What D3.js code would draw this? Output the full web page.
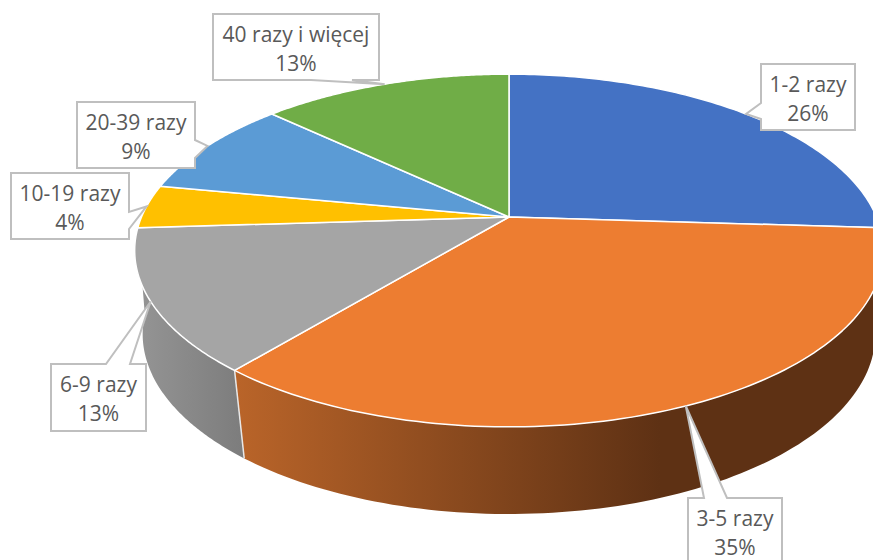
<!DOCTYPE html>
<html>
<head>
<meta charset="utf-8">
<script src="https://cdn.jsdelivr.net/npm/d3@7"></script>
<style>
    html, body { margin: 0; padding: 0; background: #fff; overflow: hidden; }
    svg { display: block; }
</style>
</head>
<body>
<svg id="chart" width="873" height="560"></svg>
<script>
(function () {

    var categories = ["1-2 razy", "3-5 razy", "6-9 razy", "10-19 razy", "20-39 razy", "40 razy i więcej"],
        values = [26, 35, 13, 4, 9, 13],
        percentLabels = ["26%", "35%", "13%", "4%", "9%", "13%"],
        colors = ["#4472c4", "#ed7d31", "#a5a5a5", "#ffc000", "#5b9bd5", "#70ad47"];

    // label boxes: x, y, w, h, side the pointer leaves from, pointer base on that side
    var boxes = [
        { x: 761, y: 64, w: 94, h: 66, side: "left", a: 103, b: 119 },
        { x: 688, y: 498, w: 94, h: 66, side: "top", a: 704, b: 727 },
        { x: 51, y: 364, w: 95, h: 67, side: "top", a: 106, b: 130 },
        { x: 11, y: 173, w: 118, h: 66, side: "right", a: 212, b: 229 },
        { x: 77, y: 102, w: 118, h: 66, side: "right", a: 140, b: 158 },
        { x: 213, y: 14, w: 166, h: 66, side: "bottom", a: 311, b: 352 }
    ];

    var svg = d3.select("#chart"),
        cx = 509,
        top = { r: 367.5, cy: 217, depth: 170, k: 0.19 },
        bottom = { r: 361, cy: 303.4, depth: 174.8, k: 0.17 };

    // circle seen in perspective, angle runs clockwise from twelve o'clock
    function project(disc, angle) {
        var u = Math.sin(angle),
            v = -Math.cos(angle),
            d = 1 - disc.k * v;
        return [cx + disc.r * u / d, disc.cy + disc.depth * v / d];
    }

    function rim(disc, a0, a1) {
        return d3.range(0, 101).map(function (i) {
            return project(disc, a0 + (a1 - a0) * i / 100);
        });
    }

    var line = d3.line(),
        slices = d3.pie().sort(null).value(function (d) { return d; })(values);

    var defs = svg.append("defs");

    var orangeGrad = defs.append("linearGradient")
        .attr("id", "wallOrange")
        .attr("gradientUnits", "userSpaceOnUse")
        .attr("x1", 238).attr("x2", 660).attr("y1", 0).attr("y2", 0);
    orangeGrad.append("stop").attr("offset", 0).attr("stop-color", "#b96429");
    orangeGrad.append("stop").attr("offset", 1).attr("stop-color", "#5e3114");

    var grayGrad = defs.append("linearGradient")
        .attr("id", "wallGray")
        .attr("gradientUnits", "userSpaceOnUse")
        .attr("x1", 135).attr("x2", 245).attr("y1", 0).attr("y2", 0);
    grayGrad.append("stop").attr("offset", 0).attr("stop-color", "#959595");
    grayGrad.append("stop").attr("offset", 1).attr("stop-color", "#7c7c7c");

    // side walls, only the two front slices show
    svg.append("g").selectAll("path")
        .data([slices[2], slices[1]])
        .enter().append("path")
            .attr("d", function (d) {
                return line(rim(top, d.startAngle, d.endAngle)
                    .concat(rim(bottom, d.endAngle, d.startAngle))) + "Z";
            })
            .attr("fill", function (d, i) { return i ? "url(#wallOrange)" : "url(#wallGray)"; });

    // the white seam between the two walls
    svg.append("path")
        .attr("d", line([project(top, slices[1].endAngle), project(bottom, slices[1].endAngle)]))
        .attr("stroke", "#e8e8e8")
        .attr("stroke-width", 1.5)
        .attr("fill", "none");

    // top face
    svg.append("g").selectAll("path")
        .data(slices)
        .enter().append("path")
            .attr("d", function (d) {
                return line([[cx, top.cy]].concat(rim(top, d.startAngle, d.endAngle))) + "Z";
            })
            .attr("fill", function (d, i) { return colors[i]; })
            .attr("stroke", "#fff")
            .attr("stroke-width", 1.5)
            .attr("stroke-linejoin", "round");

    function callout(box, tip) {
        var x0 = box.x, x1 = box.x + box.w, y0 = box.y, y1 = box.y + box.h, pts;
        if (box.side === "top") {
            pts = [[x0, y0], [box.a, y0], tip, [box.b, y0], [x1, y0], [x1, y1], [x0, y1]];
        } else if (box.side === "right") {
            pts = [[x0, y0], [x1, y0], [x1, box.a], tip, [x1, box.b], [x1, y1], [x0, y1]];
        } else if (box.side === "bottom") {
            pts = [[x0, y0], [x1, y0], [x1, y1], [box.b, y1], tip, [box.a, y1], [x0, y1]];
        } else {
            pts = [[x0, y0], [x1, y0], [x1, y1], [x0, y1], [x0, box.b], tip, [x0, box.a]];
        }
        return line(pts) + "Z";
    }

    var labels = svg.append("g").selectAll("g")
        .data(slices)
        .enter().append("g");

    labels.append("path")
        .attr("d", function (d, i) {
            return callout(boxes[i], project(top, (d.startAngle + d.endAngle) / 2));
        })
        .attr("fill", "#fff")
        .attr("stroke", "#bfbfbf")
        .attr("stroke-width", 2);

    labels.append("text")
        .attr("x", function (d, i) { return boxes[i].x + boxes[i].w / 2; })
        .attr("y", function (d, i) { return boxes[i].y + 28; })
        .attr("text-anchor", "middle")
        .style("font", "21px 'Open Sans'")
        .attr("fill", "#595959")
        .text(function (d, i) { return categories[i]; });

    labels.append("text")
        .attr("x", function (d, i) { return boxes[i].x + boxes[i].w / 2; })
        .attr("y", function (d, i) { return boxes[i].y + 57; })
        .attr("text-anchor", "middle")
        .style("font", "21px 'Open Sans'")
        .attr("fill", "#595959")
        .text(function (d, i) { return percentLabels[i]; });

}());
</script>
</body>
</html>
